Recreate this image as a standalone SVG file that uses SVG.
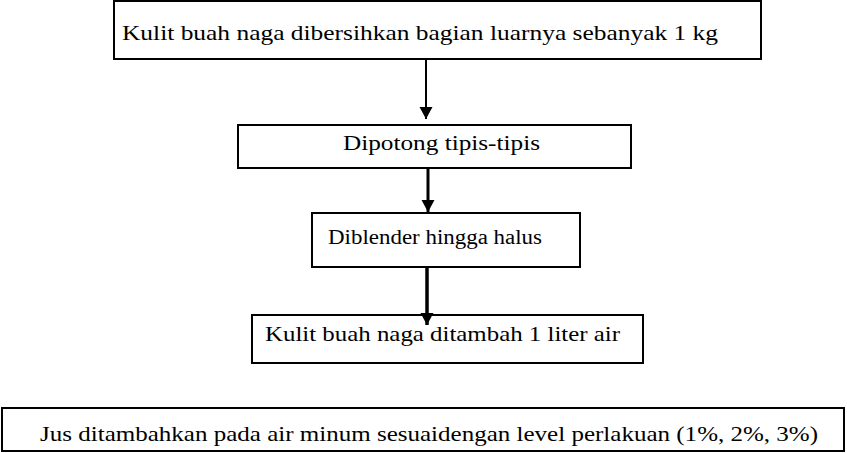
<svg xmlns="http://www.w3.org/2000/svg" width="847" height="453" viewBox="0 0 847 453">
<defs>
<marker id="ah" markerUnits="userSpaceOnUse" markerWidth="14" markerHeight="13" refX="12" refY="6.5" orient="auto" overflow="visible">
<path d="M0,0 L12,6.5 L0,13 Z" fill="#000"/>
</marker>
<style>
.box{fill:#fff;stroke:#000;stroke-width:2}
.c{stroke:#000;fill:none}
text{font-family:'Liberation Serif','Times New Roman',Times,serif;fill:#000}
</style>
</defs>
<rect width="847" height="453" fill="#fff"/>
<g id="n1">
<rect class="box" x="114" y="1" width="647" height="58"/>
<text x="122" y="40" font-size="22" textLength="596" lengthAdjust="spacingAndGlyphs">Kulit buah naga dibersihkan bagian luarnya sebanyak 1 kg</text>
</g>
<g id="n2">
<rect class="box" x="238" y="125" width="393" height="43"/>
<text x="343" y="150" font-size="22" textLength="197" lengthAdjust="spacingAndGlyphs">Dipotong tipis-tipis</text>
</g>
<g id="n3">
<rect class="box" x="312" y="213" width="268" height="54"/>
<text x="328" y="244" font-size="20" textLength="214" lengthAdjust="spacingAndGlyphs">Diblender hingga halus</text>
</g>
<g id="n4">
<rect class="box" x="252" y="315" width="391" height="48"/>
<text x="265" y="341" font-size="22" textLength="355" lengthAdjust="spacingAndGlyphs">Kulit buah naga ditambah 1 liter air</text>
</g>
<g id="n5">
<rect class="box" x="2" y="408" width="842" height="43"/>
<text x="40" y="441" font-size="22" textLength="778" lengthAdjust="spacingAndGlyphs">Jus ditambahkan pada air minum sesuaidengan level perlakuan (1%, 2%, 3%)</text>
</g>
<g id="connectors">
<line class="c" x1="426" y1="59" x2="426" y2="119" stroke-width="2" marker-end="url(#ah)"/>
<line class="c" x1="428" y1="169" x2="428" y2="212" stroke-width="3" marker-end="url(#ah)"/>
<line class="c" x1="427" y1="267" x2="427" y2="325" stroke-width="3.5" marker-end="url(#ah)"/>
</g>
</svg>
